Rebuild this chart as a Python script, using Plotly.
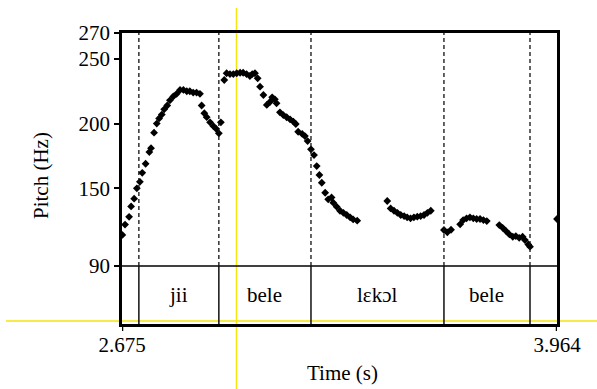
import plotly.graph_objects as go

# ---- data ----
times = [
    2.676, 2.684, 2.696, 2.702, 2.711, 2.719, 2.728, 2.735, 2.745, 2.756,
    2.761, 2.770, 2.778, 2.785, 2.793, 2.800, 2.809, 2.817, 2.827, 2.837,
    2.847, 2.857, 2.867, 2.876, 2.886, 2.896, 2.906, 2.911, 2.919, 2.926,
    2.936, 2.946, 2.954, 2.962, 2.968,
    2.978, 2.985, 2.995, 3.005, 3.015, 3.025, 3.034, 3.044, 3.054, 3.061,
    3.069, 3.077, 3.084, 3.094, 3.104, 3.114, 3.120, 3.128, 3.133, 3.143,
    3.153, 3.163, 3.173, 3.183, 3.190, 3.197, 3.209, 3.217, 3.225, 3.235,
    3.244, 3.252, 3.260, 3.267, 3.277, 3.286, 3.296, 3.301, 3.311, 3.321,
    3.331, 3.341, 3.351, 3.360, 3.372,
    3.461, 3.471, 3.481, 3.491, 3.501, 3.511, 3.520, 3.530, 3.540, 3.550,
    3.560, 3.570, 3.580, 3.590,
    3.629, 3.639, 3.650, 3.677, 3.686, 3.696, 3.706, 3.716, 3.726, 3.736,
    3.746, 3.756,
    3.793, 3.803, 3.813, 3.823, 3.833, 3.842, 3.852, 3.862, 3.869, 3.879,
    3.884,
    3.964,
]
pitch = [
    114, 122, 128, 136, 142, 150, 155, 162, 169, 178,
    181, 193, 200, 204, 207, 211, 214, 218, 221, 223,
    226, 226, 225, 225, 224, 224, 223, 214, 208, 205,
    201, 198, 196, 192.5, 201,
    233.7, 238.9, 238.3, 238.3, 238.9, 239.3, 239.3, 238.3, 236.8, 238.3,
    238.9, 235, 228.5, 222.1, 214.4, 216.9, 220.3, 218.8, 215.7, 208.7,
    206.6, 204.9, 203.3, 201.5, 199.7, 193.7, 192, 190.4, 186.5, 180.1,
    175.7, 167.2, 160.3, 154.3, 146.6, 141.5, 143, 138.9, 135.8, 132.7,
    131.1, 129.4, 127.6, 126, 125,
    140.2, 134.5, 132.7, 131.1, 129.4, 128.6, 127.6, 126.8, 127.6, 128.1,
    128.6, 129.4, 131.1, 132.7,
    117.8, 116, 118, 122.2, 125.5, 126.8, 127.6, 126.8, 126.3, 126.3,
    125.5, 124.7,
    121.6, 119.5, 117, 114.4, 112.6, 113.1, 111.8, 112.6, 110, 106.7,
    104.9,
    126.3,
]
boundaries = [2.725, 2.962, 3.235, 3.629, 3.884]
words = ["jii", "bele", "lɛkɔl", "bele"]
x_range = [2.675, 3.964]
x_ticks = [2.675, 3.964]
x_ticktext = ["2.675", "3.964"]
y_ticks = [90, 150, 200, 250, 270]
y_range = [45.2, 270]
tier_top = 90
x_title = "Time (s)"
y_title = "Pitch (Hz)"

FONT = "Liberation Serif, Times New Roman, serif"

W, H = 597, 389
L, R, T, B = 122, 40, 33, 65
pw, ph = W - L - R, H - T - B


def px2paper_x(px):
    return (px - L) / pw


def py2paper_y(py):
    return (H - B - py) / ph


fig = go.Figure()
fig.add_trace(go.Scatter(
    x=times, y=pitch, mode="markers",
    marker=dict(symbol="diamond", size=6, color="black", line=dict(width=0)),
    showlegend=False, hoverinfo="x+y",
))

shapes = []
# tier separator
shapes.append(dict(type="line", xref="x", yref="y", x0=x_range[0], x1=x_range[1],
                   y0=tier_top, y1=tier_top, line=dict(color="black", width=1.5)))
for b in boundaries:
    shapes.append(dict(type="line", xref="x", yref="y", x0=b, x1=b,
                       y0=tier_top, y1=y_range[1],
                       line=dict(color="#111111", width=1.3, dash="4px,3px")))
    shapes.append(dict(type="line", xref="x", yref="y", x0=b, x1=b,
                       y0=y_range[0], y1=tier_top,
                       line=dict(color="#111111", width=1.5)))
# short tick marks below the time axis at its two ends
for xt in x_ticks:
    shapes.append(dict(type="line", xref="x", yref="paper", x0=xt, x1=xt,
                       y0=0, y1=py2paper_y(331), line=dict(color="black", width=2.5)))
# yellow crosshair lines
shapes.append(dict(type="line", xref="paper", yref="paper",
                   x0=px2paper_x(236.5), x1=px2paper_x(236.5),
                   y0=py2paper_y(8), y1=py2paper_y(389),
                   line=dict(color="#f5e50c", width=1.5), layer="below"))
shapes.append(dict(type="line", xref="paper", yref="paper",
                   x0=px2paper_x(6), x1=px2paper_x(597),
                   y0=py2paper_y(321), y1=py2paper_y(321),
                   line=dict(color="#f5e50c", width=1.5), layer="below"))

annotations = []
for i, w in enumerate(words):
    annotations.append(dict(x=(boundaries[i] + boundaries[i + 1]) / 2,
                            y=(y_range[0] + tier_top) / 2,
                            xref="x", yref="y", text=w, showarrow=False,
                            font=dict(family=FONT, size=21, color="black")))
annotations.append(dict(x=px2paper_x(342), y=py2paper_y(373), xref="paper", yref="paper",
                        text=x_title, showarrow=False, xanchor="center", yanchor="middle",
                        font=dict(family=FONT, size=21, color="black")))
annotations.append(dict(x=px2paper_x(41), y=py2paper_y(176), xref="paper", yref="paper",
                        text=y_title, showarrow=False, xanchor="center", yanchor="middle",
                        textangle=-90,
                        font=dict(family=FONT, size=21, color="black")))

fig.update_layout(
    width=W, height=H,
    margin=dict(l=L, r=R, t=T, b=B, autoexpand=False),
    paper_bgcolor="white", plot_bgcolor="white",
    shapes=shapes, annotations=annotations,
    font=dict(family=FONT, size=21, color="black"),
    xaxis=dict(range=x_range, tickvals=x_ticks, ticktext=x_ticktext, automargin=False,
               showgrid=False, zeroline=False, showline=True, linecolor="black",
               linewidth=2.5, mirror=True, ticks="", ticklen=0,
               tickfont=dict(family=FONT, size=21, color="black")),
    yaxis=dict(range=y_range, tickvals=y_ticks, automargin=False,
               showgrid=False, zeroline=False, showline=True, linecolor="black",
               linewidth=2.5, mirror=True, ticks="outside", ticklen=5, tickwidth=1.5,
               tickcolor="black", tickfont=dict(family=FONT, size=21, color="black")),
)

fig.write_html("out.html", post_script="document.body.style.margin='0';",
               config={"displayModeBar": False})
